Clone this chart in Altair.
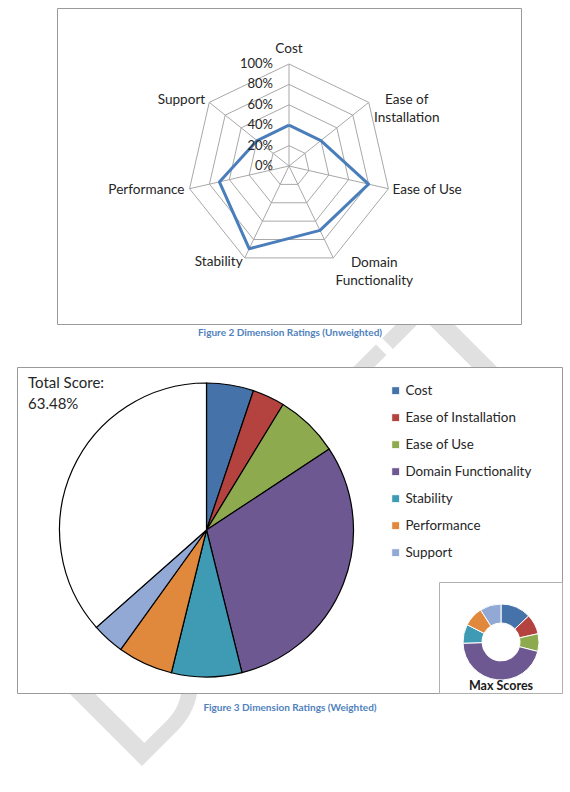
import altair as alt
import pandas as pd

# ---------------------------------------------------------------- data
# Dimensions, clockwise from 12 o'clock (radar spokes and pie slices)
categories = ["Cost", "Ease of Installation", "Ease of Use", "Domain Functionality",
              "Stability", "Performance", "Support"]
# Spoke labels of the radar (wrapped like the originals)
radar_labels = ["Cost", "Ease of\nInstallation", "Ease of Use", "Domain\nFunctionality",
                "Stability", "Performance", "Support"]
# Unweighted rating of each dimension (fraction of 100%)
ratings = [0.40, 0.40, 0.80, 0.70, 0.90, 0.70, 0.40]
# Radial grid levels and their labels
grid_levels = [0.0, 0.2, 0.4, 0.6, 0.8, 1.0]
grid_labels = ["0%", "20%", "40%", "60%", "80%", "100%"]
# Weighted score of each dimension, in percent of the maximum total
weighted = [5.17, 3.55, 7.00, 30.40, 7.72, 6.07, 3.57]
# Maximum score (weight) of each dimension, in percent
max_scores = [13.0, 8.5, 7.5, 45.5, 8.0, 8.5, 9.0]
# Slice colours
colors = ["#4672AA", "#B4433F", "#8EAA4E", "#6E5891", "#3E9BB3", "#E0893D", "#92A9D5"]

# ---------------------------------------------------------------- layout
W, H = 570, 792
FONT = "Lato"
TEXT = "#262626"
CAPTION = "#4F81BD"
BOX = "#9A9A9A"
N = len(categories)

# radar placement: centre and pixel length of 100%
CX, CY, R = 289, 166, 102
xs = alt.Scale(domain=[-CX / R, (W - CX) / R], nice=False, zero=False)
ys = alt.Scale(domain=[-(H - CY) / R, CY / R], nice=False, zero=False)

# pie / donut placement
PIE_X, PIE_Y, PIE_R = 206.5, 530, 147
DON_X, DON_Y, DON_R, DON_R2 = 501, 642, 38, 19

one = alt.Data(values=[{}])


def polar(chart, rfield):
    return (chart
            .transform_calculate(ang=f"2 * PI * datum.k / {N}")
            .transform_calculate(px=f"datum.{rfield} * sin(datum.ang)",
                                 py=f"datum.{rfield} * cos(datum.ang)",
                                 x0="0", y0="0"))


PX = alt.X("px:Q", scale=xs, axis=None)
PY = alt.Y("py:Q", scale=ys, axis=None)

# ---------------------------------------------------------------- watermark & frames
watermark = alt.Chart(one).mark_text(
    text="DRAFT", font=FONT, fontSize=185, angle=315,
    align="left", baseline="alphabetic", color="#E0E0E0"
).encode(x=alt.value(130), y=alt.value(778))


def frame(x1, y1, x2, y2, stroke=BOX):
    return alt.Chart(one).mark_rect(fill="white", stroke=stroke, strokeWidth=1).encode(
        x=alt.value(x1), x2=alt.value(x2), y=alt.value(y1), y2=alt.value(y2))


top_box = frame(57.5, 8.5, 521.5, 324.5)
bottom_box = frame(17.5, 367.5, 562.5, 693.5)
inset_box = frame(439.5, 582.5, 562.5, 693.5, stroke="#B0B0B0")


def caption(txt, y):
    return alt.Chart(one).mark_text(
        text=txt, font=FONT, fontSize=10, fontWeight="bold", color=CAPTION,
        align="center", baseline="middle"
    ).encode(x=alt.value(290), y=alt.value(y))


cap2 = caption("Figure 2 Dimension Ratings (Unweighted)", 333)
cap3 = caption("Figure 3 Dimension Ratings (Weighted)", 708)

# ---------------------------------------------------------------- radar
ring_df = pd.DataFrame([{"level": lv, "k": k} for lv in grid_levels[1:] for k in range(N + 1)])
spoke_df = pd.DataFrame({"k": list(range(N)), "r": [grid_levels[-1]] * N})
series_df = pd.DataFrame({"k": list(range(N + 1)), "r": ratings + ratings[:1]})
tick_df = pd.DataFrame({"level": grid_levels, "label": grid_labels, "k": [0] * len(grid_levels)})
label_df = pd.DataFrame({"k": list(range(N)), "category": categories,
                         "label": radar_labels, "r": [grid_levels[-1]] * N})

rings = polar(alt.Chart(ring_df), "level").mark_line(
    color="#A8A8A8", strokeWidth=1
).encode(x=PX, y=PY, detail="level:N", order="k:Q")

spokes = polar(alt.Chart(spoke_df), "r").mark_rule(
    color="#A8A8A8", strokeWidth=1
).encode(x=alt.X("x0:Q", scale=xs, axis=None), y=alt.Y("y0:Q", scale=ys, axis=None),
         x2="px:Q", y2="py:Q")

series = polar(alt.Chart(series_df), "r").mark_line(
    color="#4A7EBB", strokeWidth=3, strokeJoin="round"
).encode(x=PX, y=PY, order="k:Q")

ticks = polar(alt.Chart(tick_df), "level").mark_text(
    font=FONT, fontSize=13, color=TEXT, align="right", baseline="middle", dx=-16
).encode(x=PX, y=PY, text="label:N")

# placement of each spoke label relative to its 100% vertex
label_style = {
    "Cost": ("center", 0, -15),
    "Ease of Installation": ("center", 38, -2),
    "Ease of Use": ("left", 4, 1),
    "Domain Functionality": ("center", 41, 5),
    "Stability": ("right", -2, 4),
    "Performance": ("right", -5, 1),
    "Support": ("right", -4, -2),
}
spoke_labels = [
    polar(alt.Chart(label_df), "r").transform_filter(
        alt.datum.category == cat
    ).mark_text(
        font=FONT, fontSize=13.6, color=TEXT, align=al, baseline="middle",
        dx=dx, dy=dy, lineBreak="\n", lineHeight=18
    ).encode(x=PX, y=PY, text="label:N")
    for cat, (al, dx, dy) in label_style.items()
]

# ---------------------------------------------------------------- pie
pie_df = pd.DataFrame({"k": list(range(N)), "category": categories, "value": weighted})
donut_df = pd.DataFrame({"k": list(range(N)), "category": categories, "max": max_scores})
cscale = alt.Scale(domain=categories, range=colors)

pie = alt.Chart(pie_df).mark_arc(
    radius=PIE_R, stroke="black", strokeWidth=1.2
).encode(
    theta=alt.Theta("value:Q", stack=True, scale=alt.Scale(domain=[0, 100])),
    order=alt.Order("k:Q"),
    color=alt.Color("category:N", scale=cscale, legend=alt.Legend(
        title=None, orient="none", legendX=389, legendY=384, padding=0,
        symbolType="square", symbolSize=64, symbolStrokeColor="#1A1A1A",
        symbolStrokeWidth=1, symbolOpacity=1, labelFont=FONT, labelFontSize=13.4,
        labelColor=TEXT, labelOffset=3, rowPadding=12, labelLimit=300)),
    x=alt.value(PIE_X), y=alt.value(PIE_Y),
)

remainder = alt.Chart(pie_df).transform_aggregate(
    total="sum(value)"
).transform_calculate(full="100").mark_arc(
    radius=PIE_R, fill="white", stroke="black", strokeWidth=1.2
).encode(
    theta=alt.Theta("total:Q", stack=False, scale=alt.Scale(domain=[0, 100])),
    theta2="full:Q",
    x=alt.value(PIE_X), y=alt.value(PIE_Y),
)

total_text = alt.Chart(pie_df).transform_aggregate(
    total="sum(value)"
).transform_calculate(
    txt="'Total Score:|' + format(datum.total, '.2f') + '%'"
).mark_text(
    font=FONT, fontSize=15, color=TEXT, align="left", baseline="top",
    lineBreak="|", lineHeight=21
).encode(x=alt.value(28), y=alt.value(376), text="txt:N")

donut = alt.Chart(donut_df).mark_arc(
    radius=DON_R, radius2=DON_R2, stroke="white", strokeWidth=1
).encode(
    theta=alt.Theta("max:Q", stack=True),
    order=alt.Order("k:Q"),
    color=alt.Color("category:N", scale=cscale),
    x=alt.value(DON_X), y=alt.value(DON_Y),
)

donut_title = alt.Chart(one).mark_text(
    text="Max Scores", font=FONT, fontSize=12.5, fontWeight="bold", color="#1A1A1A",
    align="center", baseline="middle"
).encode(x=alt.value(DON_X), y=alt.value(686))

chart = alt.layer(
    watermark, top_box, bottom_box,
    rings, spokes, series, ticks, *spoke_labels,
    pie, remainder, total_text,
    inset_box, donut, donut_title,
    cap2, cap3,
).resolve_scale(
    theta="independent"
).properties(
    width=W, height=H, padding=0, background="white",
    autosize=alt.AutoSizeParams(type="none"),
).configure_view(stroke=None)

chart.save("out.html", embed_options={"renderer": "svg", "actions": False})
